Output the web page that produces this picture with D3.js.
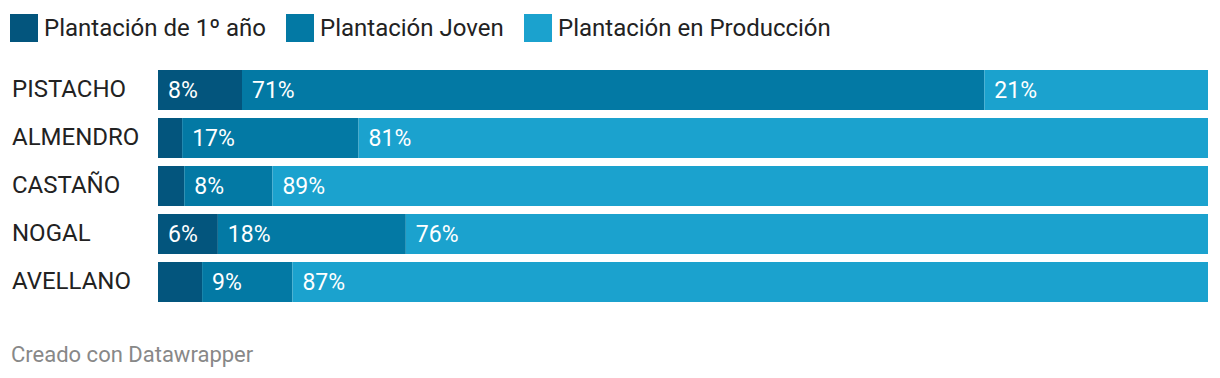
<!DOCTYPE html>
<html>
<head>
<meta charset="utf-8">
<script src="https://cdn.jsdelivr.net/npm/d3@7"></script>
<style>
  body { margin: 0; background: #fff; font-family: Roboto, sans-serif; }
</style>
</head>
<body>
<div id="chart"></div>
<script>
document.addEventListener('DOMContentLoaded', function() {

    // data (percent shares)
    const categories = ["PISTACHO", "ALMENDRO", "CASTAÑO", "NOGAL", "AVELLANO"];
    const series = ["Plantación de 1º año", "Plantación Joven", "Plantación en Producción"];
    const primerAno = [8.0, 2.3, 2.5, 5.7, 4.2];
    const joven = [70.7, 16.8, 8.4, 17.9, 8.6];
    const produccion = [21.3, 80.9, 89.1, 76.4, 87.2];
    const colors = ["#03557d", "#0379a4", "#1ba2ce"];

    const rows = categories.map((c, i) => ({
        cat: c, s0: primerAno[i], s1: joven[i], s2: produccion[i]
    }));
    const stack = d3.stack().keys(["s0", "s1", "s2"])(rows);

    const W = 1220, H = 378;
    const svg = d3.select("#chart").append("svg")
        .attr("width", W)
        .attr("height", H);

    // Scales
    const x = d3.scaleLinear().domain([0, 100]).range([158, 1208]);
    const y = d3.scaleBand().domain(categories).range([66, 306]).paddingInner(0.1667).paddingOuter(0.0833);

    // Legend
    const legendX = [10, 286, 524];
    const legend = svg.append("g");
    series.forEach((s, i) => {
        legend.append("rect")
            .attr("x", legendX[i]).attr("y", 14)
            .attr("width", 28).attr("height", 28)
            .attr("fill", colors[i]);
        legend.append("text")
            .attr("x", legendX[i] + 34).attr("y", 36)
            .style("font-size", "24px")
            .attr("fill", "#222")
            .text(s);
    });

    // Category labels
    svg.selectAll("text.cat")
        .data(categories)
        .enter().append("text")
        .attr("class", "cat")
        .attr("x", 12)
        .attr("y", d => y(d) + y.bandwidth() / 2 + 7)
        .style("font-size", "24px")
        .attr("fill", "#222")
        .text(d => d);

    // Bars
    const layers = svg.selectAll("g.layer")
        .data(stack)
        .enter().append("g")
        .attr("class", "layer")
        .attr("fill", (d, i) => colors[i]);

    layers.selectAll("rect")
        .data(d => d)
        .enter().append("rect")
        .attr("x", d => x(d[0]))
        .attr("y", d => y(d.data.cat))
        .attr("width", d => x(d[1]) - x(d[0]))
        .attr("height", y.bandwidth());

    // Value labels (only where the segment is wide enough)
    layers.selectAll("text")
        .data(d => d.filter(p => x(p[1]) - x(p[0]) > 50))
        .enter().append("text")
        .attr("x", d => x(d[0]) + 10)
        .attr("y", d => y(d.data.cat) + y.bandwidth() / 2 + 8)
        .style("font-size", "23px")
        .attr("fill", "#fff")
        .text(d => Math.round(d[1] - d[0]) + "%");

    // Footer
    svg.append("text")
        .attr("x", 11).attr("y", 362)
        .style("font-size", "22px")
        .attr("fill", "#888")
        .text("Creado con Datawrapper");
});
</script>
</body>
</html>
